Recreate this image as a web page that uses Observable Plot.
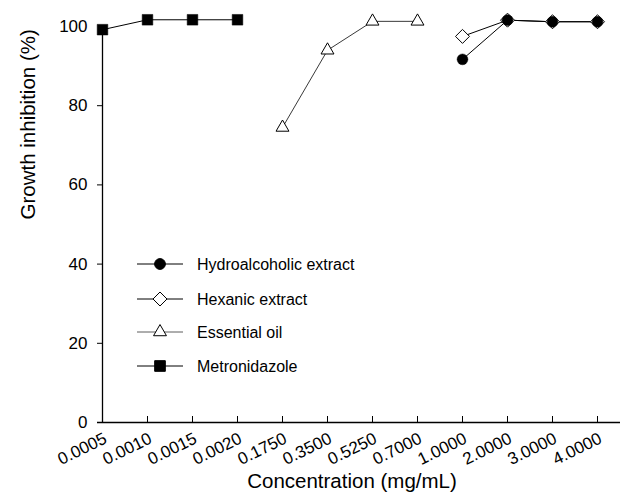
<!DOCTYPE html>
<html>
<head>
<meta charset="utf-8">
<script src="https://cdn.jsdelivr.net/npm/d3@7"></script>
<script src="https://cdn.jsdelivr.net/npm/@observablehq/plot@0.6"></script>
<style>
  html, body { margin: 0; padding: 0; background: #fff; }
  svg { font-family: "Liberation Sans", Arial, Helvetica, sans-serif; }
</style>
</head>
<body>
<div id="chart"></div>
<script>
// ---- data ----
const categories = ["0.0005", "0.0010", "0.0015", "0.0020", "0.1750", "0.3500", "0.5250", "0.7000", "1.0000", "2.0000", "3.0000", "4.0000"];
const yTicks = [0, 20, 40, 60, 80, 100];

const metronidazoleConc = ["0.0005", "0.0010", "0.0015", "0.0020"];
const metronidazoleVals = [99.2, 101.7, 101.7, 101.7];

const essentialOilConc = ["0.1750", "0.3500", "0.5250", "0.7000"];
const essentialOilVals = [74.5, 94.0, 101.3, 101.3];

const hexanicConc = ["1.0000", "2.0000", "3.0000", "4.0000"];
const hexanicVals = [97.5, 101.6, 101.2, 101.2];

const hydroConc = ["1.0000", "2.0000", "3.0000", "4.0000"];
const hydroVals = [91.7, 101.6, 101.2, 101.2];

const seriesNames = ["Hydroalcoholic extract", "Hexanic extract", "Essential oil", "Metronidazole"];

const toRows = (xs, ys) => xs.map((x, i) => ({x, y: ys[i]}));
const metro = toRows(metronidazoleConc, metronidazoleVals);
const ess = toRows(essentialOilConc, essentialOilVals);
const hex = toRows(hexanicConc, hexanicVals);
const hydro = toRows(hydroConc, hydroVals);

const W = 622, H = 493;
const mL = 97, mR = 20, mT = 26, mB = 71;
const frameW = W - mL - mR, frameH = H - mT - mB;

const chart = Plot.plot({
  width: W,
  height: H,
  marginLeft: mL,
  marginRight: mR,
  marginTop: mT,
  marginBottom: mB,
  style: {fontFamily: '"Liberation Sans", Arial, Helvetica, sans-serif', background: "#fff", color: "#000"},
  x: {type: "point", domain: categories, padding: 0},
  y: {domain: [0, 100]},
  marks: [
    // axis lines
    Plot.ruleY([0], {stroke: "#000", strokeWidth: 1.3, insetRight: -18}),
    Plot.ruleX([categories[0]], {stroke: "#000", strokeWidth: 1.3}),
    // inward ticks
    Plot.tickX(categories.slice(1), {x: d => d, stroke: "#000", strokeWidth: 1, insetTop: frameH - 6}),
    Plot.tickY(yTicks.slice(1, 5), {y: d => d, stroke: "#000", strokeWidth: 1, insetRight: frameW - 6}),
    // tick labels
    Plot.axisX({tickSize: 0, tickPadding: 15, tickRotate: -26, fontSize: 17, dx: 3, label: null}),
    Plot.axisY({ticks: yTicks, tickSize: 0, tickPadding: 10, fontSize: 17, label: null}),
    // axis titles
    Plot.text(["Concentration (mg/mL)"], {frameAnchor: "bottom", dy: 59, dx: 2, fontSize: 20.5, lineAnchor: "middle"}),
    Plot.text(["Growth inhibition (%)"], {frameAnchor: "left", rotate: -90, dx: -69, dy: -5, fontSize: 20.5}),
    // series lines
    Plot.line(metro, {x: "x", y: "y", stroke: "#000", strokeWidth: 1}),
    Plot.line(ess, {x: "x", y: "y", stroke: "#222", strokeWidth: 0.9}),
    Plot.line(hex, {x: "x", y: "y", stroke: "#000", strokeWidth: 1}),
    Plot.line(hydro, {x: "x", y: "y", stroke: "#000", strokeWidth: 1}),
    // markers
    Plot.dot(metro, {x: "x", y: "y", symbol: "square", r: 6, fill: "#000", stroke: "#000", strokeWidth: 0.5}),
    Plot.dot(ess, {x: "x", y: "y", symbol: "triangle", r: 4.8, fill: "#fff", stroke: "#000", strokeWidth: 1}),
    Plot.dot(hex, {x: "x", y: "y", symbol: "diamond2", r: 6.3, fill: "#fff", stroke: "#000", strokeWidth: 1}),
    Plot.dot(hydro, {x: "x", y: "y", symbol: "circle", r: 5.4, fill: "#000", stroke: "#000", strokeWidth: 0.5})
  ]
});

// legend drawn inside the plot area
const svg = d3.select(chart);
const legend = svg.append("g").attr("class", "legend").attr("text-anchor", "start");
const rowY = [264, 299, 332, 366];
const symbols = [
  {type: d3.symbolCircle, size: Math.PI * 5.4 * 5.4, fill: "#000"},
  {type: d3.symbolDiamond2, size: Math.PI * 6.3 * 6.3, fill: "#fff"},
  {type: d3.symbolTriangle, size: Math.PI * 4.8 * 4.8, fill: "#fff"},
  {type: d3.symbolSquare, size: Math.PI * 6 * 6, fill: "#000"}
];
seriesNames.forEach((name, i) => {
  const g = legend.append("g").attr("transform", `translate(0,${rowY[i]})`);
  g.append("line").attr("x1", 137).attr("x2", 183).attr("y1", 0).attr("y2", 0)
    .attr("stroke", i === 2 ? "#333" : "#000").attr("stroke-width", i === 2 ? 0.8 : 1);
  g.append("path").attr("transform", "translate(160,0)")
    .attr("d", d3.symbol(symbols[i].type, symbols[i].size)())
    .attr("fill", symbols[i].fill).attr("stroke", "#000").attr("stroke-width", 1);
  g.append("text").attr("x", 197).attr("y", 0).attr("dy", "0.35em")
    .attr("text-anchor", "start")
    .attr("font-size", 16).attr("fill", "#000").text(name);
});

document.getElementById("chart").appendChild(chart);
</script>
</body>
</html>
